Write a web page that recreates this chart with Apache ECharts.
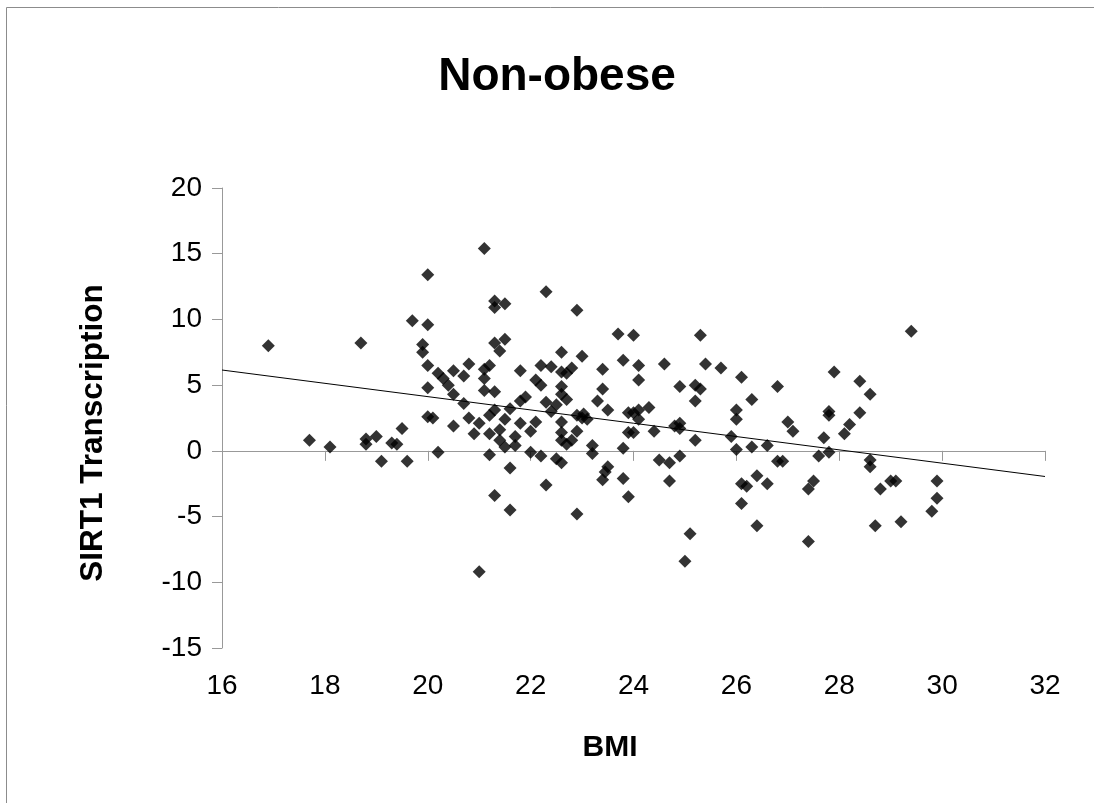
<!DOCTYPE html>
<html>
<head>
<meta charset="utf-8">
<title>Non-obese</title>
<script src="https://cdn.jsdelivr.net/npm/echarts@6/dist/echarts.min.js"></script>
<style>
  html, body { margin: 0; padding: 0; background: #ffffff; }
  #chart { width: 1094px; height: 803px; }
</style>
</head>
<body>
<div id="chart"></div>
<script>
// BMI of each subject
const bmi = [
  16.9, 18.7, 20.0, 19.7, 20.0, 19.9, 19.9, 20.0, 20.0, 20.0,
  17.7, 18.1, 18.8, 18.8, 19.0, 19.5, 19.3, 19.4, 19.1, 19.6,
  21.1, 22.3, 21.3, 21.5, 21.3, 22.9, 23.7, 21.3, 21.5, 21.4,
  22.6, 23.0, 23.8, 20.8, 21.2, 21.1, 20.5, 20.2, 20.3, 20.7,
  21.8, 22.2, 22.4, 22.6, 22.7, 22.8, 23.4, 21.1, 22.1, 22.2,
  20.4, 20.5, 21.1, 21.3, 22.6, 22.6, 22.7, 23.4, 21.8, 21.9,
  20.7, 22.3, 22.5, 22.4, 23.3, 23.5, 21.3, 21.2, 21.6, 20.1,
  20.8, 21.0, 20.5, 21.5, 21.8, 22.1, 22.9, 23.0, 23.03, 23.1,
  23.9, 22.6, 21.4, 21.2, 20.9, 22.0, 21.7, 21.4, 21.5, 21.7,
  22.6, 22.6, 22.7, 22.8, 22.9, 23.9, 23.2, 23.2, 23.8, 20.2,
  21.2, 22.0, 22.2, 22.5, 22.6, 21.6, 23.5, 23.45, 23.4, 23.8,
  23.9, 22.3, 21.3, 21.6, 22.9, 21.0,
  24.0, 25.3, 24.1, 24.6, 25.4, 25.7, 24.1, 24.9, 25.2, 25.3,
  25.2, 26.1, 26.8, 26.3, 26.0, 26.0, 24.0, 24.1, 24.3, 24.1,
  24.0, 24.4, 24.8, 24.9, 24.9, 25.2, 25.9, 26.0, 26.3, 26.6,
  27.0, 27.1, 27.7, 27.6, 24.5, 24.7, 24.9, 26.8, 26.9, 24.7,
  26.1, 26.2, 26.4, 26.6, 26.1, 26.4, 27.5, 27.4, 27.4, 25.1,
  25.0,
  29.4, 27.9, 28.4, 28.6, 27.8, 27.8, 28.4, 28.2, 28.1, 27.8,
  28.6, 28.6, 28.8, 29.0, 29.1, 29.9, 29.9, 29.8, 28.7, 29.2
];

// SIRT1 transcription, same order as bmi
const sirt1 = [
  8.0, 8.2, 13.4, 9.9, 9.6, 8.1, 7.5, 6.5, 4.8, 2.6,
  0.8, 0.3, 0.9, 0.5, 1.1, 1.7, 0.6, 0.5, -0.8, -0.8,
  15.4, 12.1, 11.4, 11.2, 10.9, 10.7, 8.9, 8.2, 8.5, 7.6,
  7.5, 7.2, 6.9, 6.6, 6.5, 6.2, 6.1, 5.9, 5.5, 5.7,
  6.1, 6.5, 6.4, 6.0, 5.9, 6.3, 6.2, 5.5, 5.4, 5.0,
  5.0, 4.3, 4.6, 4.5, 4.9, 4.3, 3.9, 4.7, 3.8, 4.1,
  3.6, 3.7, 3.5, 3.0, 3.8, 3.1, 3.1, 2.7, 3.2, 2.5,
  2.5, 2.1, 1.9, 2.4, 2.1, 2.2, 2.7, 2.5, 2.8, 2.4,
  2.9, 2.2, 1.6, 1.3, 1.3, 1.5, 1.1, 0.8, 0.3, 0.4,
  1.4, 0.8, 0.5, 0.8, 1.5, 1.4, 0.4, -0.2, 0.2, -0.1,
  -0.3, -0.1, -0.4, -0.6, -0.9, -1.3, -1.2, -1.6, -2.2, -2.1,
  -3.5, -2.6, -3.4, -4.5, -4.8, -9.2,
  8.8, 8.8, 6.5, 6.6, 6.6, 6.3, 5.4, 4.9, 5.0, 4.7,
  3.8, 5.6, 4.9, 3.9, 3.1, 2.4, 2.9, 3.1, 3.3, 2.4,
  1.4, 1.5, 1.9, 2.1, 1.7, 0.8, 1.1, 0.1, 0.3, 0.4,
  2.2, 1.5, 1.0, -0.4, -0.7, -0.9, -0.4, -0.8, -0.8, -2.3,
  -2.5, -2.7, -1.9, -2.5, -4.0, -5.7, -2.3, -2.9, -6.9, -6.3,
  -8.4,
  9.1, 6.0, 5.3, 4.3, 3.0, 2.7, 2.9, 2.0, 1.3, -0.1,
  -0.7, -1.2, -2.9, -2.3, -2.3, -2.3, -3.6, -4.6, -5.7, -5.4
];

// Linear trend line end points
const trendBmi = [16, 32];
const trendSirt1 = [6.15, -1.95];

// Axis ranges
const bmiRange = { min: 16, max: 32, step: 2 };
const sirt1Range = { min: -15, max: 20, step: 5 };

const points = bmi.map((x, i) => [x, sirt1[i]]);
const trend = trendBmi.map((x, i) => [x, trendSirt1[i]]);

const FONT = '"Liberation Sans", Arial, sans-serif';
const axisGray = '#999999';

const chart = echarts.init(document.getElementById('chart'), null, { renderer: 'canvas' });

chart.setOption({
  backgroundColor: '#ffffff',
  animation: false,
  grid: { left: 222, right: 49, top: 188, bottom: 155, containLabel: false },
  xAxis: {
    type: 'value',
    min: bmiRange.min,
    max: bmiRange.max,
    interval: bmiRange.step,
    axisLine: { show: true, lineStyle: { color: axisGray, width: 1 } },
    axisTick: { show: true, inside: false, length: 10, lineStyle: { color: axisGray } },
    splitLine: { show: false },
    axisLabel: { color: '#000', fontFamily: FONT, fontSize: 28, margin: 24 }
  },
  yAxis: {
    type: 'value',
    min: sirt1Range.min,
    max: sirt1Range.max,
    interval: sirt1Range.step,
    axisLine: { show: true, lineStyle: { color: axisGray, width: 1 } },
    axisTick: { show: true, inside: false, length: 10, lineStyle: { color: axisGray } },
    splitLine: { show: false },
    axisLabel: { color: '#000', fontFamily: FONT, fontSize: 28, margin: 20 }
  },
  graphic: [
    {
      type: 'rect',
      silent: true,
      shape: { x: 6.5, y: 7.5, width: 1200, height: 1200 },
      style: { fill: null, stroke: '#8c8c8c', lineWidth: 1 }
    },
    {
      type: 'text',
      x: 557, y: 77,
      style: {
        text: 'Non-obese', fill: '#000',
        font: 'bold 46px ' + FONT,
        textAlign: 'center', textVerticalAlign: 'middle'
      }
    },
    {
      type: 'text',
      x: 610, y: 748,
      style: {
        text: 'BMI', fill: '#000',
        font: 'bold 30px ' + FONT,
        textAlign: 'center', textVerticalAlign: 'middle'
      }
    },
    {
      type: 'text',
      x: 93, y: 433,
      rotation: Math.PI / 2,
      style: {
        text: 'SIRT1 Transcription', fill: '#000',
        font: 'bold 31.5px ' + FONT,
        textAlign: 'center', textVerticalAlign: 'middle'
      }
    }
  ],
  series: [
    {
      type: 'line',
      data: trend,
      showSymbol: false,
      symbol: 'none',
      lineStyle: { color: '#000', width: 1 },
      z: 3
    },
    {
      type: 'scatter',
      data: points,
      symbol: 'diamond',
      symbolSize: 13,
      itemStyle: { color: '#000' },
      z: 4
    }
  ]
});
</script>
</body>
</html>
